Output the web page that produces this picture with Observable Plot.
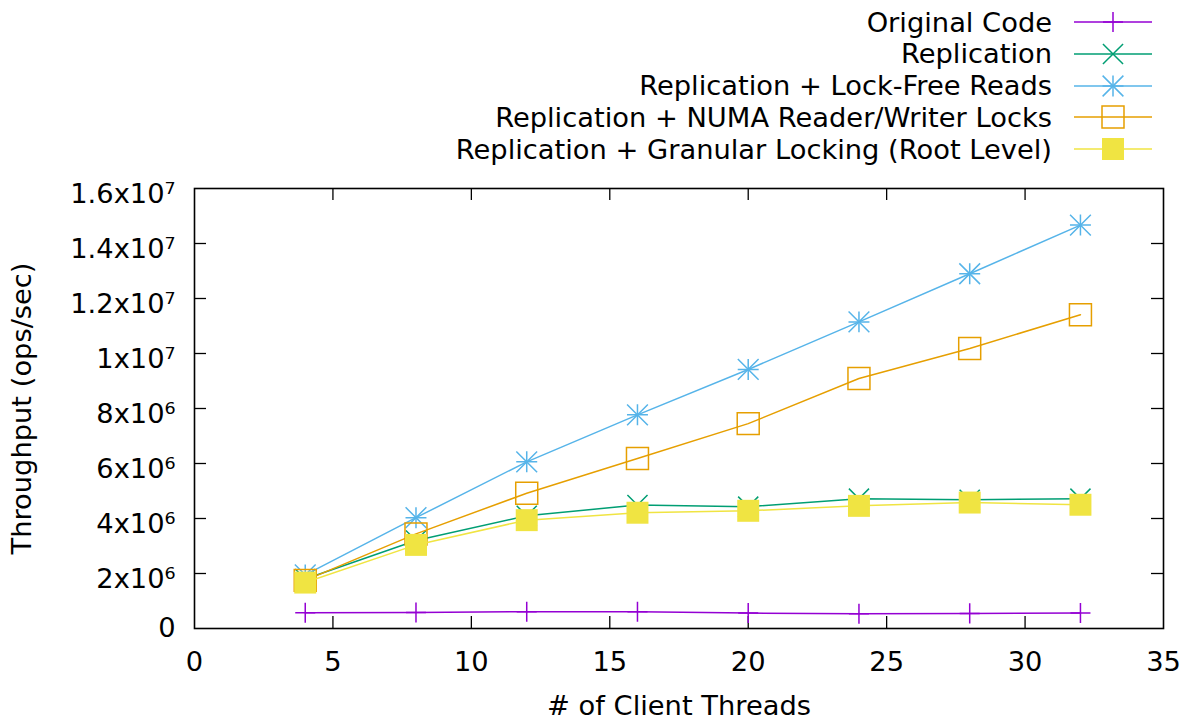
<!DOCTYPE html>
<html><head><meta charset="utf-8">
<script src="https://cdn.jsdelivr.net/npm/d3@7"></script>
<script src="https://cdn.jsdelivr.net/npm/@observablehq/plot@0.6"></script>
<style>
html,body{margin:0;padding:0;background:#fff;font-family:"DejaVu Sans",sans-serif;}
#legend{position:relative;height:170px;width:1198px;}
.row{position:absolute;right:46px;height:32px;display:flex;align-items:center;}
.row span{font-size:27.3px;margin-right:22px;color:#000;white-space:nowrap;}
svg{display:block;}
</style></head><body>
<div id="legend"></div><div id="chart"></div>
<script>
// ---- data ----
const threads = [4, 8, 12, 16, 20, 24, 28, 32];
const seriesNames = [
  "Original Code",
  "Replication",
  "Replication + Lock-Free Reads",
  "Replication + NUMA Reader/Writer Locks",
  "Replication + Granular Locking (Root Level)"
];
const originalCode   = [5.7e5, 5.8e5, 6.1e5, 6.1e5, 5.6e5, 5.4e5, 5.5e5, 5.6e5];
const replication    = [1.80e6, 3.20e6, 4.10e6, 4.49e6, 4.43e6, 4.72e6, 4.68e6, 4.72e6];
const lockFreeReads  = [1.95e6, 4.03e6, 6.06e6, 7.77e6, 9.42e6, 11.15e6, 12.9e6, 14.67e6];
const numaRWLocks    = [1.75e6, 3.44e6, 4.92e6, 6.18e6, 7.45e6, 9.09e6, 10.18e6, 11.41e6];
const granularLock   = [1.67e6, 3.04e6, 3.94e6, 4.21e6, 4.28e6, 4.46e6, 4.58e6, 4.50e6];
const xTicks = [0, 5, 10, 15, 20, 25, 30, 35];
const yTicks = [0, 2e6, 4e6, 6e6, 8e6, 1e7, 1.2e7, 1.4e7, 1.6e7];
const xLabel = "# of Client Threads";
const yLabel = "Throughput (ops/sec)";

const colors = ["#9400d3", "#009e73", "#56b4e9", "#e69f00", "#f0e442"];
const values = [originalCode, replication, lockFreeReads, numaRWLocks, granularLock];
// marker specs: list of [symbol, r, filled]
const markers = [
  [["plus", 6.5, false]],
  [["times", 9.2, false]],
  [["plus", 6.8, false], ["times", 9.5, false]],
  [["square2", 14, false]],
  [["square", 12.4, true]]
];
const FS = 27.3;

// ---- legend ----
const legend = document.getElementById("legend");
const symMap = {plus: d3.symbolPlus, times: d3.symbolTimes, square2: d3.symbolSquare2, square: d3.symbolSquare};
seriesNames.forEach((name, i) => {
  const row = document.createElement("div");
  row.className = "row";
  row.style.top = (6 + i * 31.75) + "px";
  const span = document.createElement("span");
  span.textContent = name;
  row.appendChild(span);
  const svg = d3.create("svg").attr("width", 78).attr("height", 32);
  svg.append("line").attr("x1", 0).attr("x2", 78).attr("y1", 16).attr("y2", 16)
    .attr("stroke", colors[i]).attr("stroke-width", 1.5);
  markers[i].forEach(([s, r, filled]) => {
    svg.append("path").attr("transform", "translate(39,16)")
      .attr("d", d3.symbol(symMap[s], Math.PI * r * r)())
      .attr("fill", filled ? colors[i] : "none")
      .attr("stroke", filled ? "none" : colors[i])
      .attr("stroke-width", 1.5);
  });
  row.appendChild(svg.node());
  legend.appendChild(row);
});

// ---- chart ----
const sup = {6: "\u2076", 7: "\u2077"};
const fmt = v => {
  if (v === 0) return "0";
  const e = v >= 1e7 ? 7 : 6;
  const m = +(v / 10 ** e).toFixed(1);
  return `${m}x10${sup[e]}`;
};

const seriesMarks = [];
values.forEach((vals, i) => {
  const data = threads.map((t, j) => ({threads: t, value: vals[j], series: seriesNames[i]}));
  seriesMarks.push(Plot.line(data, {x: "threads", y: "value", stroke: colors[i], strokeWidth: 1.5}));
  markers[i].forEach(([s, r, filled]) => {
    seriesMarks.push(Plot.dot(data, {
      x: "threads", y: "value", symbol: s, r,
      fill: filled ? colors[i] : "none",
      stroke: filled ? "none" : colors[i],
      strokeWidth: 1.5
    }));
  });
});

const chart = Plot.plot({
  width: 1198, height: 551,
  marginTop: 18, marginBottom: 93, marginLeft: 194, marginRight: 35,
  style: {fontFamily: "DejaVu Sans", fontSize: FS + "px", background: "white", color: "black", overflow: "visible"},
  x: {domain: [0, 35]},
  y: {domain: [0, 1.6e7]},
  marks: [
    Plot.axisX(xTicks, {tickSize: 0, tickPadding: 23, fontSize: FS, label: null}),
    Plot.axisY([yTicks[0]], {tickSize: 0, tickPadding: 19, fontSize: FS, tickFormat: fmt, label: null}),
    Plot.axisY(yTicks.slice(1), {tickSize: 0, tickPadding: 19, fontSize: FS, tickFormat: fmt, label: null, dy: 6}),
    Plot.ruleX(xTicks.slice(1, -1), {x: d => d, insetTop: 428, stroke: "black", strokeWidth: 1.3}),
    Plot.ruleX(xTicks.slice(1, -1), {x: d => d, insetBottom: 428, stroke: "black", strokeWidth: 1.3}),
    Plot.ruleY(yTicks.slice(1, -1), {y: d => d, insetRight: 957, stroke: "black", strokeWidth: 1.3}),
    Plot.ruleY(yTicks.slice(1, -1), {y: d => d, insetLeft: 957, stroke: "black", strokeWidth: 1.3}),
    ...seriesMarks,
    Plot.frame({stroke: "black", strokeWidth: 1.6}),
    Plot.text([xLabel], {text: d => d, frameAnchor: "bottom", dy: 78, fontSize: FS, lineAnchor: "middle"}),
    Plot.text([yLabel], {text: d => d, frameAnchor: "left", dx: -172, rotate: -90, fontSize: FS, textAnchor: "middle", lineAnchor: "middle"})
  ]
});
document.getElementById("chart").appendChild(chart);
</script>
</body></html>
